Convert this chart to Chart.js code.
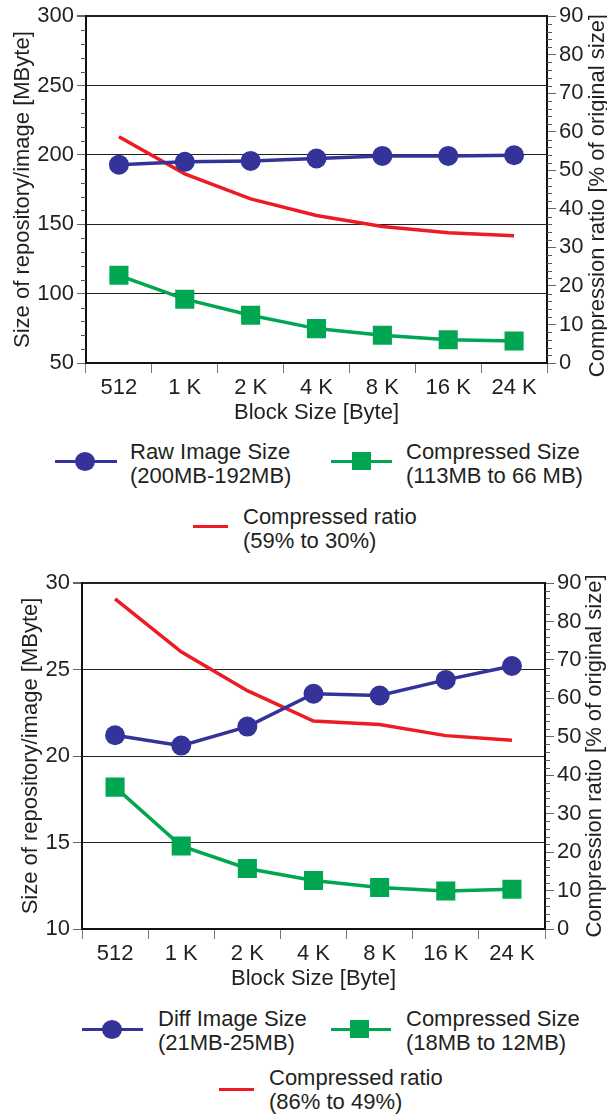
<!DOCTYPE html>
<html lang="en">
<head>
    <meta charset="UTF-8">
    <title>Block size vs repository size</title>
    <script src="https://cdn.jsdelivr.net/npm/chart.js"></script>
    <style>
        body {
            margin: 0;
            background: #fff;
            font-family: "Liberation Sans", Arial, sans-serif;
            color: #231f20;
        }
        .page { position: relative; width: 607px; height: 1115px; overflow: hidden; }
        .box { position: absolute; left: 0; width: 607px; }
        .lg-line { position: absolute; height: 3px; }
        .lg-dot { position: absolute; width: 20px; height: 19px; border-radius: 50%; background: #333399; }
        .lg-sq { position: absolute; width: 19px; height: 18px; background: #00a651; }
        .lg-text { position: absolute; font-size: 22px; line-height: 24px; white-space: nowrap; }
    </style>
</head>
<body>
<div class="page">
    <div class="box" style="top:0; height:430px;"><canvas id="chart1"></canvas></div>
    <div class="box" style="top:560px; height:436px;"><canvas id="chart2"></canvas></div>

    <!-- legend, chart 1 -->
    <div class="lg-line" style="left:55px; width:62px; top:460px; background:#333399;"></div>
    <div class="lg-dot" style="left:75px; top:452px;"></div>
    <div class="lg-text" style="left:130px; top:440px;">Raw Image Size<br>(200MB-192MB)</div>
    <div class="lg-line" style="left:331px; width:61px; top:460px; background:#00a651;"></div>
    <div class="lg-sq" style="left:352px; top:452px;"></div>
    <div class="lg-text" style="left:406px; top:440px;">Compressed Size<br>(113MB to 66 MB)</div>
    <div class="lg-line" style="left:193px; width:35px; top:525px; background:#ed1c24;"></div>
    <div class="lg-text" style="left:243px; top:505px;">Compressed ratio<br>(59% to 30%)</div>

    <!-- legend, chart 2 -->
    <div class="lg-line" style="left:82px; width:61px; top:1028px; background:#333399;"></div>
    <div class="lg-dot" style="left:102px; top:1020px;"></div>
    <div class="lg-text" style="left:158px; top:1007px;">Diff Image Size<br>(21MB-25MB)</div>
    <div class="lg-line" style="left:331px; width:60px; top:1028px; background:#00a651;"></div>
    <div class="lg-sq" style="left:350px; top:1020px;"></div>
    <div class="lg-text" style="left:406px; top:1007px;">Compressed Size<br>(18MB to 12MB)</div>
    <div class="lg-line" style="left:219px; width:35px; top:1088px; background:#ed1c24;"></div>
    <div class="lg-text" style="left:269px; top:1066px;">Compressed ratio<br>(86% to 49%)</div>
</div>

<script>
    const blockSizes = ['512', '1 K', '2 K', '4 K', '8 K', '16 K', '24 K'];

    // top chart
    const rawImageSize = [193, 195, 195.7, 197.4, 199.3, 199.3, 199.8];
    const rawCompressed = [113.2, 96, 84.4, 74.8, 70, 66.8, 65.9];
    const rawRatio = [58.7, 49.1, 42.6, 38.3, 35.4, 33.8, 33.0];

    // bottom chart
    const diffImageSize = [21.2, 20.6, 21.7, 23.6, 23.5, 24.4, 25.2];
    const diffCompressed = [18.2, 14.8, 13.5, 12.8, 12.4, 12.2, 12.3];
    const diffRatio = [85.9, 72.1, 62.0, 54.1, 53.2, 50.3, 49.1];

    const FONT = '"Liberation Sans", Arial, sans-serif';
    const BLUE = '#333399', GREEN = '#00a651', RED = '#ed1c24', INK = '#231f20';

    // short unlabeled ticks between the labeled ones
    const minorTicks = {
        id: 'minorTicks',
        afterDraw(chart, args, opts) {
            const ctx = chart.ctx;
            (opts.list || []).forEach(m => {
                const s = chart.scales[m.axis];
                ctx.save();
                ctx.strokeStyle = '#555';
                ctx.lineWidth = 1;
                for (let v = s.min; v <= s.max; v += m.step) {
                    if (v % m.major === 0) continue;
                    const y = Math.round(s.getPixelForValue(v)) + 0.5;
                    const x0 = s.position === 'left' ? s.right : s.left;
                    const dx = s.position === 'left' ? -5 : 5;
                    ctx.beginPath();
                    ctx.moveTo(x0, y);
                    ctx.lineTo(x0 + dx, y);
                    ctx.stroke();
                }
                ctx.restore();
            });
        }
    };

    // right axis title reads bottom-to-top like the left one
    const rightTitle = {
        id: 'rightTitle',
        afterDraw(chart, args, opts) {
            const ctx = chart.ctx;
            const a = chart.chartArea;
            ctx.save();
            ctx.translate(opts.x, (a.top + a.bottom) / 2 + (opts.dy || 0));
            ctx.rotate(-Math.PI / 2);
            ctx.font = '22px ' + FONT;
            ctx.fillStyle = INK;
            ctx.textAlign = 'center';
            ctx.textBaseline = 'middle';
            ctx.fillText(opts.text, 0, 0);
            ctx.restore();
        }
    };

    function makeChart(id, cfg) {
        const ctx = document.getElementById(id).getContext('2d');
        return new Chart(ctx, {
            type: 'line',
            data: {
                labels: blockSizes,
                datasets: [{
                    data: cfg.size,
                    yAxisID: 'y',
                    borderColor: BLUE,
                    backgroundColor: BLUE,
                    borderWidth: 3.5,
                    pointStyle: 'circle',
                    pointRadius: 10,
                    pointBorderWidth: 0
                }, {
                    data: cfg.compressed,
                    yAxisID: 'y',
                    borderColor: GREEN,
                    backgroundColor: GREEN,
                    borderWidth: 3.5,
                    pointStyle: 'rect',
                    pointRadius: 13.5,
                    pointBorderWidth: 0
                }, {
                    data: cfg.ratio,
                    yAxisID: 'y2',
                    borderColor: RED,
                    borderWidth: 3.5,
                    pointRadius: 0
                }]
            },
            options: {
                responsive: true,
                maintainAspectRatio: false,
                animation: false,
                layout: { padding: { top: cfg.padTop, left: 0, right: 0, bottom: 0 } },
                plugins: {
                    legend: { display: false },
                    tooltip: { enabled: false },
                    minorTicks: { list: cfg.minor },
                    rightTitle: { text: 'Compression ratio [% of original size]', x: cfg.rightTitleX, dy: cfg.rightTitleDy }
                },
                scales: {
                    x: {
                        offset: true,
                        grid: { offset: true, drawOnChartArea: false, tickLength: 10, tickColor: '#777' },
                        border: { display: true, color: '#111', width: 2 },
                        ticks: { color: INK, font: { family: FONT, size: 22 }, padding: 2, autoSkip: false, maxRotation: 0 },
                        title: { display: true, text: 'Block Size [Byte]', color: INK, font: { family: FONT, size: 22 }, padding: { top: 0, bottom: 4 } },
                        afterFit: s => { s.height = 67; }
                    },
                    y: {
                        position: 'left',
                        min: cfg.yMin, max: cfg.yMax,
                        ticks: { stepSize: cfg.yStep, color: INK, font: { family: FONT, size: 22 }, padding: 3 },
                        grid: {
                            color: '#222',
                            lineWidth: c => (c.tick && c.tick.value === cfg.yMax ? 2 : 1),
                            tickLength: 9,
                            tickColor: '#666'
                        },
                        border: { display: true, color: '#111', width: 2 },
                        title: { display: true, text: 'Size of repository/image [MByte]', color: INK, font: { family: FONT, size: 22 }, padding: { top: cfg.leftTitlePad, bottom: 0 } },
                        afterFit: s => { s.width = cfg.leftW; }
                    },
                    y2: {
                        position: 'right',
                        min: 0, max: 90,
                        ticks: { stepSize: 10, color: INK, font: { family: FONT, size: 22 }, padding: 3 },
                        grid: { drawOnChartArea: false, tickLength: 9, tickColor: '#666' },
                        border: { display: true, color: '#111', width: 2 },
                        afterFit: s => { s.width = cfg.rightW; }
                    }
                }
            },
            plugins: [minorTicks, rightTitle]
        });
    }

    makeChart('chart1', {
        size: rawImageSize, compressed: rawCompressed, ratio: rawRatio,
        yMin: 50, yMax: 300, yStep: 50,
        padTop: 16, leftW: 86, rightW: 60, leftTitlePad: 10,
        rightTitleX: 598, rightTitleDy: 6,
        minor: [{ axis: 'y', step: 10, major: 50 }, { axis: 'y2', step: 2, major: 10 }]
    });

    makeChart('chart2', {
        size: diffImageSize, compressed: diffCompressed, ratio: diffRatio,
        yMin: 10, yMax: 30, yStep: 5,
        padTop: 23, leftW: 82, rightW: 62, leftTitlePad: 18,
        rightTitleX: 595, rightTitleDy: 0,
        minor: [{ axis: 'y2', step: 2, major: 10 }]
    });
</script>
</body>
</html>
